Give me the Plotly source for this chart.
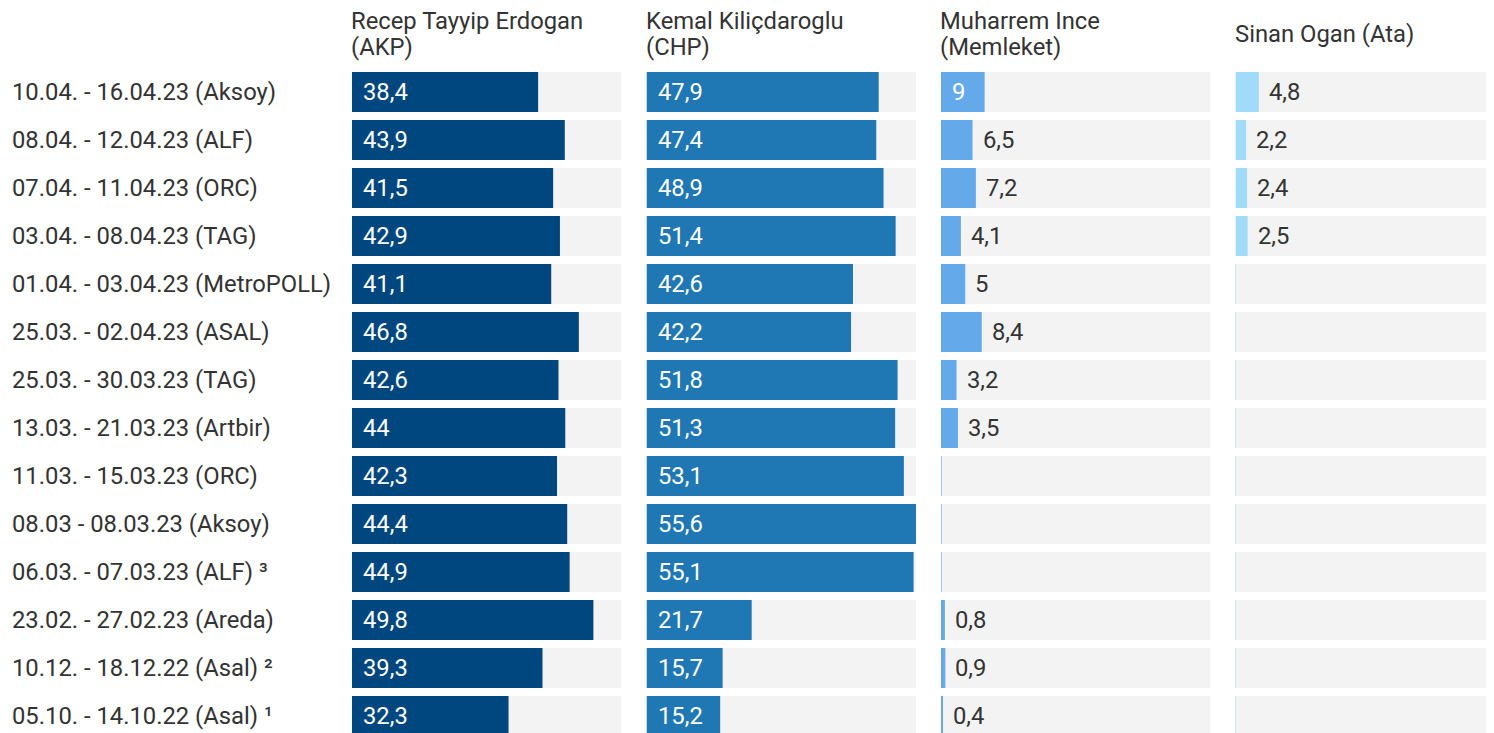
import plotly.graph_objects as go

polls = [
    "10.04. - 16.04.23 (Aksoy)",
    "08.04. - 12.04.23 (ALF)",
    "07.04. - 11.04.23 (ORC)",
    "03.04. - 08.04.23 (TAG)",
    "01.04. - 03.04.23 (MetroPOLL)",
    "25.03. - 02.04.23 (ASAL)",
    "25.03. - 30.03.23 (TAG)",
    "13.03. - 21.03.23 (Artbir)",
    "11.03. - 15.03.23 (ORC)",
    "08.03 - 08.03.23 (Aksoy)",
    "06.03. - 07.03.23 (ALF) ³",
    "23.02. - 27.02.23 (Areda)",
    "10.12. - 18.12.22 (Asal) ²",
    "05.10. - 14.10.22 (Asal) ¹",
]
candidates = [
    ["Recep Tayyip Erdogan", "(AKP)"],
    ["Kemal Kiliçdaroglu", "(CHP)"],
    ["Muharrem Ince", "(Memleket)"],
    ["Sinan Ogan (Ata)"],
]
erdogan = [38.4, 43.9, 41.5, 42.9, 41.1, 46.8, 42.6, 44, 42.3, 44.4, 44.9, 49.8, 39.3, 32.3]
kilicdaroglu = [47.9, 47.4, 48.9, 51.4, 42.6, 42.2, 51.8, 51.3, 53.1, 55.6, 55.1, 21.7, 15.7, 15.2]
ince = [9, 6.5, 7.2, 4.1, 5, 8.4, 3.2, 3.5, None, None, None, 0.8, 0.9, 0.4]
ogan = [4.8, 2.2, 2.4, 2.5, None, None, None, None, None, None, None, None, None, None]
series = [erdogan, kilicdaroglu, ince, ogan]
colors = ["#00467f", "#1f77b4", "#64aaeb", "#a0dcfa"]

# page body has an 8px margin; work in window pixels and convert
OFF = 8
WIN_W, WIN_H = 1494, 733
W, H = WIN_W - OFF, WIN_H - OFF
FONT = "Roboto"
FS = 23.8
TXT = "#333333"
col_left = [352, 646.5, 941, 1235.5]
col_px = 269.5
vmax = max(max(v for v in s if v is not None) for s in series)
row_top, pitch, bar_h = 72, 48, 40

rows = list(range(len(polls)))
c0 = row_top + bar_h / 2 - OFF
y_top = (0 - c0) / pitch
y_bot = (H - c0) / pitch


def px(xw):
    return (xw - OFF) / W


def py(yw):
    return 1 - (yw - OFF) / H


fig = go.Figure()
annotations = []
shapes = []

for c, (vals, col) in enumerate(zip(series, colors)):
    ax = "x" if c == 0 else f"x{c + 1}"
    axkey = "xaxis" if c == 0 else f"xaxis{c + 1}"
    left = col_left[c]
    right = min(left + col_px, WIN_W)
    rng = vmax * (right - left) / col_px
    fig.update_layout(**{axkey: dict(domain=[px(left), px(right)], range=[0, rng],
                                     visible=False, fixedrange=True)})
    fig.add_trace(go.Bar(y=rows, x=[vmax] * len(rows), orientation="h", xaxis=ax, yaxis="y",
                         marker=dict(color="#f3f3f3", line=dict(width=0)),
                         width=bar_h / pitch, hoverinfo="skip", showlegend=False))
    fig.add_trace(go.Bar(y=rows, x=vals, orientation="h", xaxis=ax, yaxis="y",
                         marker=dict(color=col, line=dict(width=0)),
                         width=bar_h / pitch, showlegend=False))
    for r, v in zip(rows, vals):
        if v is None:
            shapes.append(dict(type="line", xref=ax, yref="y", x0=0, x1=0,
                               y0=r - bar_h / pitch / 2, y1=r + bar_h / pitch / 2,
                               line=dict(color=col, width=1.2)))
            continue
        label = f"{v:g}".replace(".", ",")
        bar_px = v / vmax * col_px
        text_w = 11 * len(label)
        inside = bar_px >= text_w + 24
        annotations.append(dict(x=0 if inside else v, y=r, xref=ax, yref="y", text=label,
                                showarrow=False, xanchor="left", xshift=9 if inside else 8,
                                font=dict(family=FONT, size=FS,
                                          color="white" if inside else TXT)))
    lines = candidates[c]
    centers = [21, 47] if len(lines) == 2 else [34]
    for t, yc in zip(lines, centers):
        annotations.append(dict(x=px(left), y=py(yc), xref="paper", yref="paper",
                                text=t, showarrow=False, xanchor="left", yanchor="middle",
                                xshift=-2, borderpad=0,
                                font=dict(family=FONT, size=FS, color=TXT)))

for r, p in zip(rows, polls):
    annotations.append(dict(x=px(12), y=r, xref="paper", yref="y", text=p, showarrow=False,
                            xanchor="left", xshift=-2,
                            font=dict(family=FONT, size=FS, color=TXT)))

fig.update_layout(
    width=W, height=H,
    margin=dict(l=0, r=0, t=0, b=0),
    paper_bgcolor="white", plot_bgcolor="white",
    barmode="overlay",
    yaxis=dict(range=[y_bot, y_top], domain=[0, 1], visible=False, fixedrange=True),
    annotations=annotations,
    shapes=shapes,
    font=dict(family=FONT, color=TXT),
)

fig.write_html("out.html", config={"displayModeBar": False})
